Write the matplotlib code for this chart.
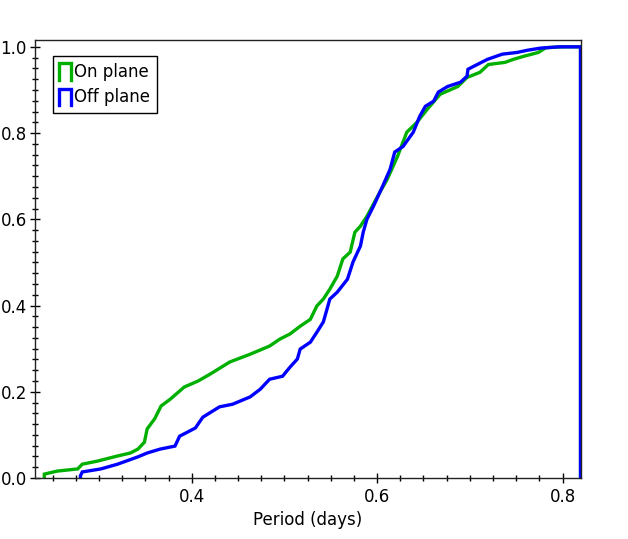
import numpy as np
import matplotlib
matplotlib.use("Agg")
import matplotlib.pyplot as plt
from matplotlib.lines import Line2D
from matplotlib.legend_handler import HandlerBase
from matplotlib.ticker import MultipleLocator

# cumulative fraction of stars with period below each value
on_period = [0.241, 0.255, 0.277, 0.282, 0.298, 0.320, 0.334, 0.342, 0.349, 0.352,
             0.360, 0.367, 0.377, 0.392, 0.407, 0.420, 0.441, 0.463, 0.484, 0.495,
             0.506, 0.517, 0.528, 0.535, 0.542, 0.549, 0.557, 0.563, 0.571, 0.576,
             0.582, 0.589, 0.603, 0.611, 0.622, 0.632, 0.643, 0.654, 0.668, 0.687,
             0.697, 0.711, 0.720, 0.738, 0.747, 0.758, 0.774, 0.782, 0.800]
on_cum = [0.009, 0.016, 0.021, 0.032, 0.039, 0.051, 0.058, 0.067, 0.083, 0.114,
          0.137, 0.167, 0.183, 0.211, 0.225, 0.241, 0.269, 0.287, 0.306, 0.322,
          0.334, 0.352, 0.368, 0.399, 0.415, 0.438, 0.468, 0.508, 0.524, 0.570,
          0.584, 0.607, 0.663, 0.693, 0.746, 0.802, 0.825, 0.855, 0.890, 0.908,
          0.929, 0.941, 0.959, 0.964, 0.971, 0.978, 0.987, 0.998, 1.000]

off_period = [0.280, 0.282, 0.302, 0.320, 0.342, 0.352, 0.366, 0.382, 0.387, 0.396,
              0.404, 0.412, 0.430, 0.444, 0.463, 0.474, 0.484, 0.498, 0.506, 0.514,
              0.517, 0.528, 0.535, 0.542, 0.546, 0.549, 0.557, 0.568, 0.574, 0.582,
              0.585, 0.589, 0.596, 0.606, 0.614, 0.619, 0.628, 0.639, 0.646, 0.652,
              0.661, 0.666, 0.676, 0.690, 0.697, 0.698, 0.708, 0.719, 0.735, 0.751,
              0.762, 0.776, 0.796]
off_cum = [0.005, 0.014, 0.021, 0.032, 0.049, 0.058, 0.067, 0.074, 0.097, 0.107,
           0.116, 0.141, 0.165, 0.171, 0.188, 0.206, 0.229, 0.236, 0.257, 0.276,
           0.299, 0.315, 0.338, 0.362, 0.392, 0.415, 0.431, 0.461, 0.501, 0.538,
           0.570, 0.600, 0.630, 0.677, 0.716, 0.756, 0.769, 0.802, 0.839, 0.862,
           0.874, 0.895, 0.908, 0.918, 0.932, 0.948, 0.959, 0.971, 0.983, 0.987,
           0.992, 0.997, 1.000]

p_min, p_max = 0.2305, 0.8194
GREEN = "#00b000"
BLUE = "#0000ff"


class StepHandler(HandlerBase):
    """Open-topped box that old step histograms used as legend key."""
    def create_artists(self, legend, orig_handle, xdescent, ydescent,
                       width, height, fontsize, trans):
        x0, x1 = -xdescent, -xdescent + width
        y0, y1 = -ydescent - 0.25 * height, -ydescent + 1.15 * height
        ln = Line2D([x0, x0, x1, x1], [y0, y1, y1, y0],
                    color=orig_handle.get_color(), lw=2.4,
                    solid_joinstyle="miter", transform=trans)
        return [ln]


def cdf_line(period, cum):
    # close the curve like a step histogram: up from zero, out to the last bin edge, back down
    xs = np.r_[period[0], period, p_max, p_max]
    ys = np.r_[0, cum, cum[-1], 0]
    return xs, ys


fig = plt.figure(figsize=(6.28, 5.39), dpi=100)
ax = fig.add_axes([0.055, 0.1132, 0.8694, 0.8135])

for per, cum, col in [(on_period, on_cum, GREEN), (off_period, off_cum, BLUE)]:
    xs, ys = cdf_line(per, cum)
    ax.plot(xs, ys, color=col, lw=2.4, solid_joinstyle="miter")

ax.set_xlim(p_min, p_max)
ax.set_ylim(0, 1.017)
ax.xaxis.set_major_locator(MultipleLocator(0.2))
ax.xaxis.set_minor_locator(MultipleLocator(0.025))
ax.yaxis.set_major_locator(MultipleLocator(0.2))
ax.yaxis.set_minor_locator(MultipleLocator(0.025))
ax.tick_params(which="both", direction="inout", top=False, right=False,
               labelsize=12)
ax.tick_params(axis="y", pad=2)
ax.tick_params(which="major", length=7, width=1)
ax.tick_params(which="minor", length=4, width=1)
for s in ax.spines.values():
    s.set_color("#222222")
    s.set_linewidth(1)

ax.set_xlabel("Period (days)", fontsize=12)

h = [Line2D([], [], color=GREEN), Line2D([], [], color=BLUE)]
leg = ax.legend(h, ["On plane", "Off plane"], loc="upper left",
                bbox_to_anchor=(18 / 546, 1 - 16.5 / 438.5), borderaxespad=0,
                fontsize=12, fancybox=False, edgecolor="black", framealpha=1,
                handlelength=0.7, handletextpad=0.2, borderpad=0.4,
                labelspacing=0.45, handler_map={Line2D: StepHandler()})
leg.get_frame().set_linewidth(1)

fig.savefig("out.png", dpi=100)
